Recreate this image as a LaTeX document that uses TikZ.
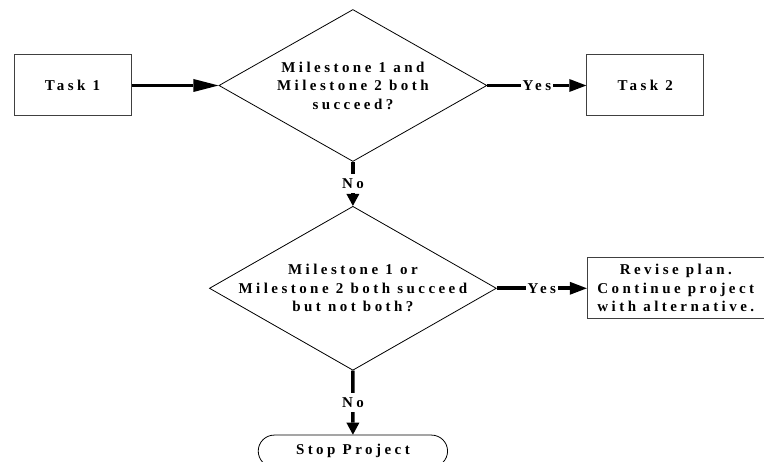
\documentclass[tikz,border=0pt]{standalone}
\usepackage{fontspec}
\setmainfont{Liberation Serif}
\usepackage{tikz}
\usetikzlibrary{arrows.meta,positioning,shapes.geometric,shapes.misc}
\definecolor{xedge}{HTML}{404040}

\begin{document}
\begin{tikzpicture}[
    x=1pt, y=1pt,
    txt/.style={font=\fontsize{15}{18.5}\selectfont\bfseries\addfontfeature{LetterSpace=23}, align=center},
    task/.style={rectangle, draw=xedge, line width=1pt, minimum height=61pt, inner sep=2pt, txt},
    decision/.style={diamond, draw=black, line width=0.8pt, inner sep=0pt},
    terminal/.style={rounded rectangle, draw=black, line width=0.8pt, minimum width=196pt, minimum height=32pt, txt},
    flow/.style={line width=3.6pt, -{Triangle[length=#1, width=13pt, line width=0pt]}},
    flow/.default=15pt,
    yes/.style={fill=white, inner xsep=1.5pt, inner ysep=3pt, txt},
    no/.style={fill=white, inner xsep=2pt, inner ysep=4.5pt, txt},
]
\useasboundingbox (0,0) rectangle (764,462);

% Boxes
\node[task, minimum width=117pt] (task1) at (72.5,376.5) {Task 1};
\node[decision, minimum width=268pt, minimum height=152pt, right=87pt of task1] (ms1) {};
\node[txt] (ms1txt) at (ms1) {Milestone 1 and\\Milestone 2 both\\succeed?};
\node[task, minimum width=117pt, right=99pt of ms1] (task2) {Task 2};

\node[decision, minimum width=287pt, minimum height=164pt, below=44pt of ms1] (ms2) {};
\node[txt] (ms2txt) at (ms2) {Milestone 1 or\\Milestone 2 both succeed\\but not both?};
\node[task, minimum width=177pt, right=90pt of ms2] (revise) {Revise plan.\\Continue project\\with alternative.};

\node[terminal, below=64pt of ms2] (stop) {Stop Project};

% Arrows
\draw[flow=25pt] (task1) -- (ms1);
\draw[flow=17pt] (ms1) -- node[yes] {Yes} (task2);
\draw[flow=12pt] (ms1) -- node[no] {No} (ms2);
\draw[flow=17pt] (ms2) -- node[yes] {Yes} (revise);
\draw[flow=12pt] (ms2) -- node[no] {No} (stop);

\end{tikzpicture}
\end{document}
